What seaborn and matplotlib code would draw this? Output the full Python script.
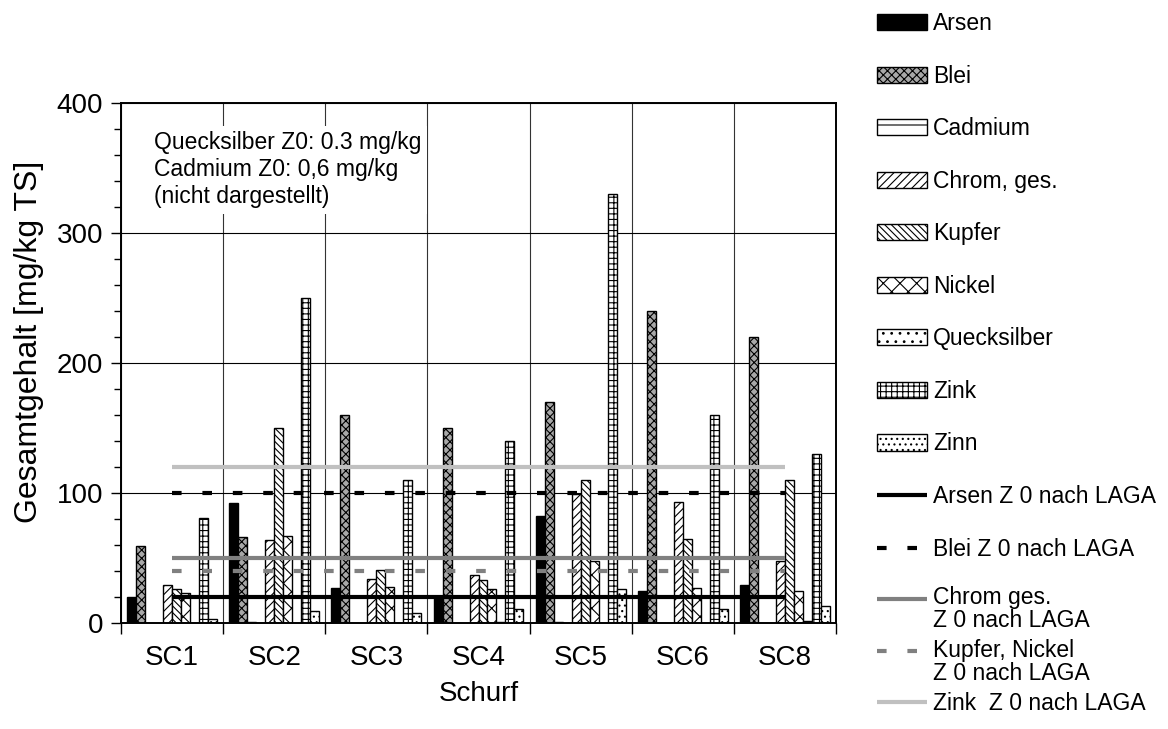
import numpy as np
import pandas as pd
import matplotlib
matplotlib.use("Agg")
import matplotlib.pyplot as plt
import seaborn as sns
from matplotlib.patches import Patch
from matplotlib.lines import Line2D
from matplotlib.legend_handler import HandlerLine2D
from matplotlib.ticker import MultipleLocator, FixedLocator

# ---------------- data ----------------
schurf = ["SC1", "SC2", "SC3", "SC4", "SC5", "SC6", "SC8"]
arsen = [20, 92, 27, 21, 82, 25, 29]
blei = [59, 66, 160, 150, 170, 240, 220]
cadmium = [0.3, 1.0, 0.3, 0.3, 0.8, 0.3, 0.3]
leer = [0, 0, 0, 0, 0, 0, 0]          # empty slot in the original chart (no legend entry)
chrom = [29, 64, 34, 37, 99, 93, 48]
kupfer = [26, 150, 41, 33, 110, 65, 110]
nickel = [23, 67, 28, 26, 48, 27, 25]
quecksilber = [0.1, 0.2, 0.1, 1.0, 0.2, 0.1, 1.2]
zink = [81, 250, 110, 140, 330, 160, 130]
zinn = [3, 9, 8, 11, 26, 11, 13]

series_names = ["Arsen", "Blei", "Cadmium", "leer", "Chrom, ges.", "Kupfer",
                "Nickel", "Quecksilber", "Zink", "Zinn"]
series_values = [arsen, blei, cadmium, leer, chrom, kupfer, nickel,
                 quecksilber, zink, zinn]

limit_names = ["Arsen Z 0 nach LAGA", "Blei Z 0 nach LAGA",
               "Chrom ges.\nZ 0 nach LAGA", "Kupfer, Nickel\nZ 0 nach LAGA",
               "Zink  Z 0 nach LAGA"]
limit_values = [20, 100, 50, 40, 120]

annotation = "Quecksilber Z0: 0.3 mg/kg\nCadmium Z0: 0,6 mg/kg\n(nicht dargestellt)"

# ---------------- styles ----------------
bar_face = {"Arsen": "black", "Blei": "#a8a8a8", "Cadmium": "white", "leer": "white",
            "Chrom, ges.": "white", "Kupfer": "white", "Nickel": "white",
            "Quecksilber": "white", "Zink": "white", "Zinn": "white"}
bar_hatch = {"Arsen": None, "Blei": "xxxx", "Cadmium": "-", "leer": None,
             "Chrom, ges.": "////", "Kupfer": "\\\\\\\\\\", "Nickel": "xx",
             "Quecksilber": "..", "Zink": "+++", "Zinn": "..."}
limit_style = [dict(color="black", lw=3.0, ls="-"),
               dict(color="black", lw=3.0, dashes=(2.3, 5.0)),
               dict(color="#808080", lw=3.0, ls="-"),
               dict(color="#808080", lw=3.0, dashes=(2.3, 5.0)),
               dict(color="#c0c0c0", lw=3.0, ls="-")]

rows = []
for name, vals in zip(series_names, series_values):
    for s, v in zip(schurf, vals):
        rows.append({"Schurf": s, "Element": name, "Wert": v})
df = pd.DataFrame(rows)

sns.set_theme(style="white")
plt.rcParams["font.family"] = ["Liberation Sans", "DejaVu Sans"]
plt.rcParams["hatch.linewidth"] = 0.8
for k in ["text.color", "axes.labelcolor", "xtick.color", "ytick.color"]:
    plt.rcParams[k] = "black"

fig = plt.figure(figsize=(11.68, 7.29), dpi=100)
ax = fig.add_axes([121 / 1168, 1 - 623 / 729, (836 - 121) / 1168, (623 - 103) / 729])

sns.barplot(data=df, x="Schurf", y="Wert", hue="Element", order=schurf,
            hue_order=series_names, palette=bar_face, width=0.88, gap=0,
            errorbar=None, edgecolor="black", linewidth=1.0, saturation=1,
            legend=False, ax=ax, zorder=2)

for name, cont in zip(series_names, ax.containers):
    for p in cont.patches:
        if name == "leer":
            p.set_visible(False)
            continue
        p.set_facecolor(bar_face[name])
        p.set_edgecolor("black")
        if bar_hatch[name]:
            p.set_hatch(bar_hatch[name])

xpos = np.arange(len(schurf))
for val, st in zip(limit_values, limit_style):
    ax.plot(xpos, [val] * len(schurf), zorder=4, solid_capstyle="butt",
            dash_capstyle="butt", **st)

ax.set_xlim(-0.5, len(schurf) - 0.5)
ax.set_ylim(0, 400)
ax.yaxis.set_major_locator(MultipleLocator(100))
ax.yaxis.set_minor_locator(MultipleLocator(20))
ax.xaxis.set_minor_locator(FixedLocator(np.arange(-0.5, len(schurf), 1.0)))
ax.tick_params(axis="y", which="major", direction="out", length=7, width=1,
               color="black", labelsize=20, pad=6, left=True)
ax.tick_params(axis="y", which="minor", direction="out", length=5, width=1,
               color="black", left=True)
ax.tick_params(axis="x", which="major", length=0, labelsize=20, pad=16)
ax.tick_params(axis="x", which="minor", direction="out", length=8, width=1,
               color="black", bottom=True)
ax.grid(False)
ax.grid(True, axis="y", which="major", color="black", lw=0.8, zorder=0)
ax.grid(True, axis="x", which="minor", color="#333333", lw=0.8, zorder=0)
ax.set_axisbelow(True)
for sp in ax.spines.values():
    sp.set_color("black")
    sp.set_linewidth(1.4)
    sp.set_visible(True)

ax.set_xlabel("Schurf", fontsize=20, labelpad=7)
ax.set_ylabel("Gesamtgehalt [mg/kg TS]", fontsize=23, labelpad=9, y=0.54)

ax.text(0.046, 0.946, annotation, transform=ax.transAxes, ha="left", va="top",
        fontsize=16.5, linespacing=1.22, zorder=5,
        bbox=dict(facecolor="white", edgecolor="none", pad=4))

# ---------------- legends ----------------
bar_handles = [Patch(facecolor=bar_face[n], edgecolor="black", hatch=bar_hatch[n],
                     linewidth=1.0)
               for n in series_names if n != "leer"]
bar_labels = [n for n in series_names if n != "leer"]
line_handles = [Line2D([0], [0], solid_capstyle="butt", dash_capstyle="butt", **st)
                for st in limit_style]


class TopLineHandler(HandlerLine2D):
    def __init__(self, shift, **kw):
        super().__init__(**kw)
        self.shift = shift

    def create_artists(self, legend, orig_handle, xdescent, ydescent, width,
                       height, fontsize, trans):
        return super().create_artists(legend, orig_handle, xdescent,
                                      ydescent - 2 * self.shift * fontsize,
                                      width, height, fontsize, trans)


leg1 = fig.legend(bar_handles + line_handles[:2], bar_labels + limit_names[:2],
                  loc="upper left", bbox_to_anchor=(877 / 1168, 1 - 12 / 729),
                  frameon=False, fontsize=16.5, handlelength=2.2,
                  handleheight=0.7, handletextpad=0.25, labelspacing=1.29,
                  borderpad=0, borderaxespad=0)

leg2 = fig.legend(line_handles[2:], limit_names[2:],
                  loc="upper left", bbox_to_anchor=(877 / 1168, 1 - 586 / 729),
                  frameon=False, fontsize=16.5, handlelength=2.2,
                  handleheight=0.7, handletextpad=0.25, labelspacing=0.3,
                  borderpad=0, borderaxespad=0,
                  handler_map={line_handles[2]: TopLineHandler(0.5),
                               line_handles[3]: TopLineHandler(0.5)})
for t in leg2.get_texts():
    t.set_linespacing(1.0)

fig.savefig("out.png", dpi=100)
